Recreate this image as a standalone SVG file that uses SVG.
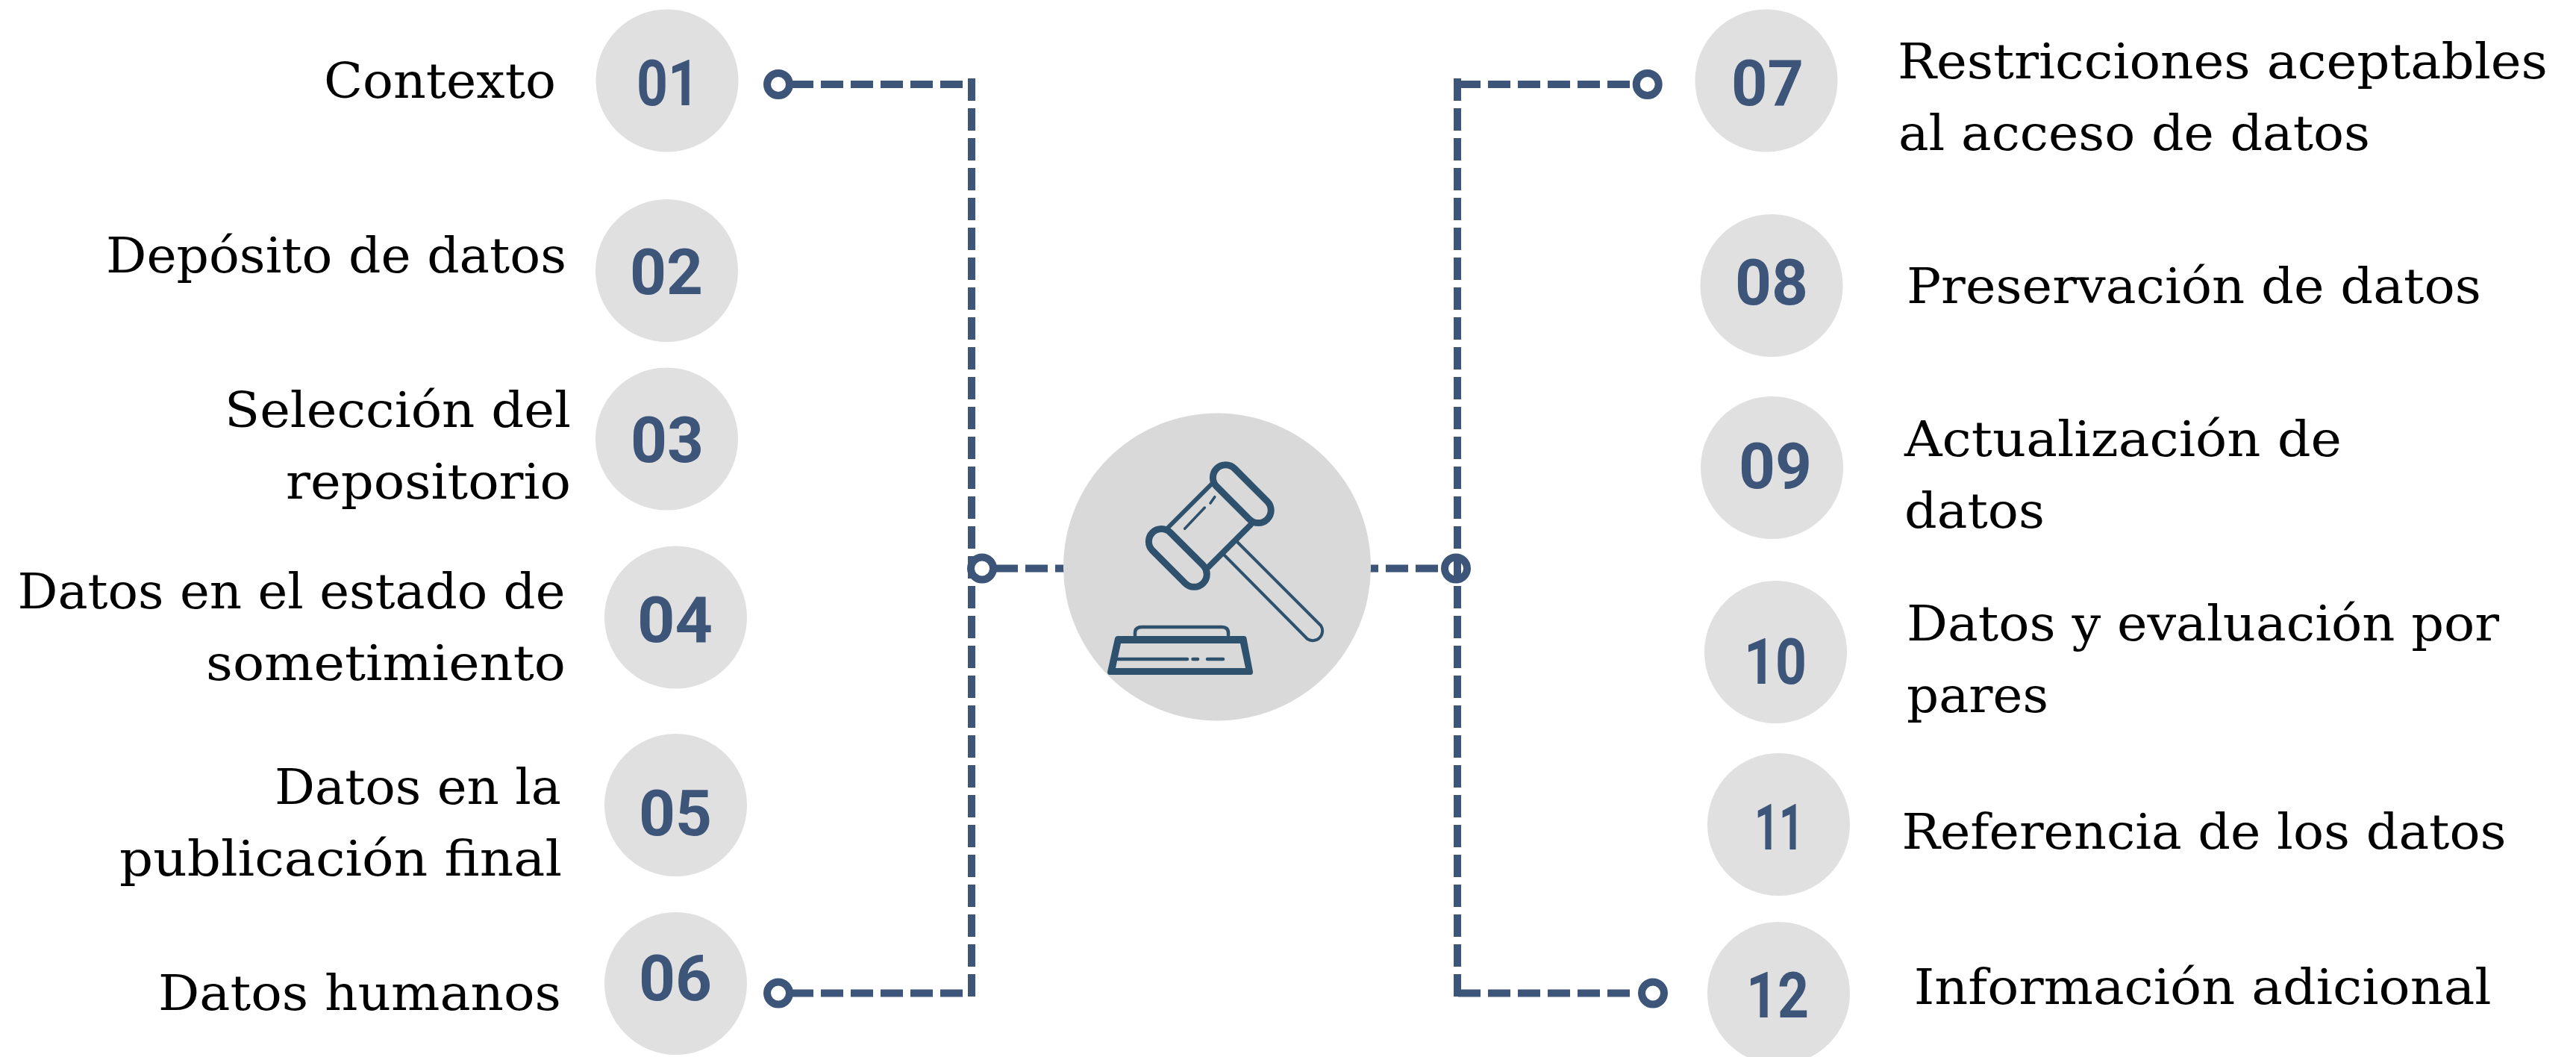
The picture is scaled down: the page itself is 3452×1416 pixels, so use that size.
<svg xmlns="http://www.w3.org/2000/svg" width="3452" height="1416" viewBox="0 0 3452 1416">
<style>
.bg{fill:#fff}
.n{fill:#e0e0e0}
.hub{fill:#d9d9d9}
.d{font-family:"Roboto","Liberation Sans",sans-serif;font-weight:700;font-size:85px;fill:#3d5579}
.t{font-family:"DejaVu Serif","Liberation Serif",serif;font-size:66px;fill:#000}
.dash{fill:none;stroke:#3d5579;stroke-width:10;stroke-dasharray:30 10}
.ring{fill:#fff;stroke:#3d5579;stroke-width:10}
.g{fill:none;stroke:#2e516e;stroke-linecap:round;stroke-linejoin:round}
</style>
<rect class="bg" width="3452" height="1416"/>
<g id="connectors">
<path class="dash" d="M1060 113H1290"/>
<path class="dash" d="M1060 1330.500H1290"/>
<path class="dash" d="M1302 105V1336"/>
<path class="dash" d="M1334 761.500H1430"/>
<circle class="ring" cx="1043" cy="113" r="15"/>
<circle class="ring" cx="1043" cy="1330.500" r="15"/>
<circle class="ring" cx="1316" cy="761.500" r="15"/>
<path class="dash" d="M1927 761.500H1817"/>
<circle class="ring" cx="1951" cy="761.500" r="15"/>
<path class="dash" d="M1954 113H2184"/>
<path class="dash" d="M1954 1330.500H2184"/>
<path class="dash" d="M1953 105V1336"/>
<circle class="ring" cx="2207.700" cy="113" r="15"/>
<circle class="ring" cx="2215" cy="1330.500" r="15"/>
</g>
<g id="hub">
<circle class="hub" cx="1631" cy="759.500" r="206"/>
<g id="gavel">
<rect class="g" x="-48" y="-17" width="96" height="34" rx="17" transform="translate(1664.300 661.700) rotate(45)" stroke-width="9"/>
<rect class="g" x="-48" y="-17" width="96" height="34" rx="17" transform="translate(1578.300 747.400) rotate(45)" stroke-width="9"/>
<path class="g" stroke-width="6" d="M1565 707L1624 648"/>
<path class="g" stroke-width="8" d="M1619 760L1676 703"/>
<path class="g" stroke-width="4" d="M1657 725L1770 838A13 13 0 0 1 1752 856L1640 743"/>
<path class="g" stroke-width="3.500" d="M1614.400 680L1587.600 708.300M1627.800 665.700L1622 674"/>
<path fill="#2e516e" fill-rule="evenodd" d="M1498 852H1667Q1670 852 1670.500 855L1679 900Q1679 904 1676 904H1487Q1484 904 1484 900L1494 855Q1495 852 1498 852ZM1502 862L1495 895H1669L1662 862Z"/>
<path class="g" stroke-width="4.500" d="M1498 883H1591M1598.500 883H1605M1618 883H1639"/>
<path class="g" stroke-width="4.500" d="M1521 851V848Q1521 840 1530 840H1637Q1646 840 1646 848V851"/>
</g>
</g>
<g id="n01"><circle class="n" cx="894" cy="108" r="95.500"/><text class="d" x="853" y="141" textLength="84" lengthAdjust="spacingAndGlyphs">01</text><text class="t" x="434" y="130.500" textLength="311" lengthAdjust="spacingAndGlyphs">Contexto</text></g>
<g id="n02"><circle class="n" cx="893.500" cy="362.500" r="95.500"/><text class="d" x="844" y="394" textLength="98" lengthAdjust="spacingAndGlyphs">02</text><text class="t" x="142" y="364.500" textLength="617" lengthAdjust="spacingAndGlyphs">Depósito de datos</text></g>
<g id="n03"><circle class="n" cx="893.500" cy="588" r="95.500"/><text class="d" x="845" y="619" textLength="98" lengthAdjust="spacingAndGlyphs">03</text><text class="t" x="301" y="572" textLength="464" lengthAdjust="spacingAndGlyphs">Selección del</text><text class="t" x="383" y="667.500" textLength="382" lengthAdjust="spacingAndGlyphs">repositorio</text></g>
<g id="n04"><circle class="n" cx="905.500" cy="827" r="95.500"/><text class="d" x="854" y="860" textLength="101" lengthAdjust="spacingAndGlyphs">04</text><text class="t" x="23.500" y="814.500" textLength="734" lengthAdjust="spacingAndGlyphs">Datos en el estado de</text><text class="t" x="276" y="910.500" textLength="482" lengthAdjust="spacingAndGlyphs">sometimiento</text></g>
<g id="n05"><circle class="n" cx="905.500" cy="1078.500" r="95.500"/><text class="d" x="856" y="1119" textLength="98" lengthAdjust="spacingAndGlyphs">05</text><text class="t" x="368" y="1076.500" textLength="384" lengthAdjust="spacingAndGlyphs">Datos en la</text><text class="t" x="160" y="1172.500" textLength="593" lengthAdjust="spacingAndGlyphs">publicación final</text></g>
<g id="n06"><circle class="n" cx="905.500" cy="1317.500" r="95.500"/><text class="d" x="856" y="1340" textLength="98" lengthAdjust="spacingAndGlyphs">06</text><text class="t" x="212" y="1352.500" textLength="540" lengthAdjust="spacingAndGlyphs">Datos humanos</text></g>
<g id="n07"><circle class="n" cx="2367" cy="108" r="95.500"/><text class="d" x="2320" y="141" textLength="97" lengthAdjust="spacingAndGlyphs">07</text><text class="t" x="2543" y="104.500" textLength="871" lengthAdjust="spacingAndGlyphs">Restricciones aceptables</text><text class="t" x="2544" y="200.500" textLength="632" lengthAdjust="spacingAndGlyphs">al acceso de datos</text></g>
<g id="n08"><circle class="n" cx="2374" cy="382.500" r="95.500"/><text class="d" x="2325" y="408" textLength="98" lengthAdjust="spacingAndGlyphs">08</text><text class="t" x="2555" y="405.500" textLength="770" lengthAdjust="spacingAndGlyphs">Preservación de datos</text></g>
<g id="n09"><circle class="n" cx="2374.500" cy="626.500" r="95.500"/><text class="d" x="2330" y="654" textLength="98" lengthAdjust="spacingAndGlyphs">09</text><text class="t" x="2552" y="610.500" textLength="586" lengthAdjust="spacingAndGlyphs">Actualización de</text><text class="t" x="2552" y="706.500" textLength="188" lengthAdjust="spacingAndGlyphs">datos</text></g>
<g id="n10"><circle class="n" cx="2379.500" cy="873.500" r="95.500"/><text class="d" x="2337" y="916" textLength="84" lengthAdjust="spacingAndGlyphs">10</text><text class="t" x="2555" y="857.500" textLength="794" lengthAdjust="spacingAndGlyphs">Datos y evaluación por</text><text class="t" x="2555" y="953.500" textLength="190" lengthAdjust="spacingAndGlyphs">pares</text></g>
<g id="n11"><circle class="n" cx="2383.500" cy="1104.500" r="95.500"/><text class="d" x="2351" y="1138" textLength="66" lengthAdjust="spacingAndGlyphs">11</text><text class="t" x="2548.600" y="1136.500" textLength="810" lengthAdjust="spacingAndGlyphs">Referencia de los datos</text></g>
<g id="n12"><circle class="n" cx="2383.500" cy="1330.500" r="95.500"/><text class="d" x="2340" y="1363" textLength="84" lengthAdjust="spacingAndGlyphs">12</text><text class="t" x="2564.700" y="1344.500" textLength="774" lengthAdjust="spacingAndGlyphs">Información adicional</text></g>
</svg>
